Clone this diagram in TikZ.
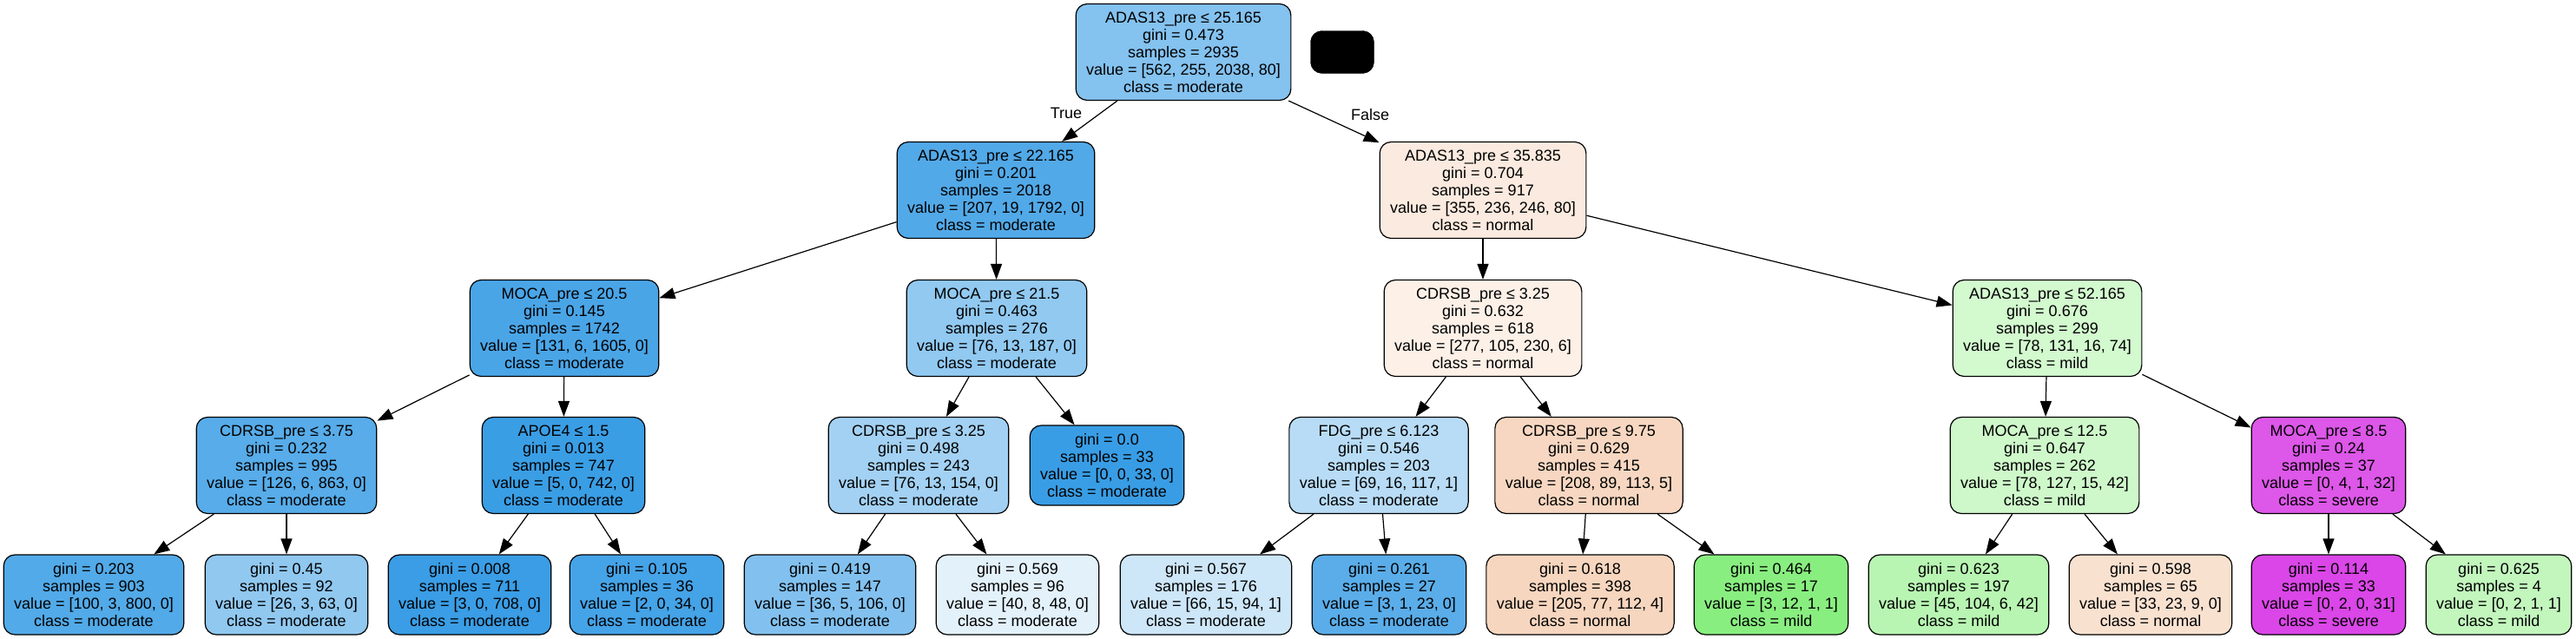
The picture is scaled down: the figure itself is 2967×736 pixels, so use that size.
\documentclass[tikz,border=0pt]{standalone}
\usepackage{fontspec}
\setmainfont{Liberation Sans}
\usetikzlibrary{arrows.meta}
\definecolor{normalc}{RGB}{229,129,57}
\definecolor{mildc}{RGB}{71,229,57}
\definecolor{moderatec}{RGB}{57,157,229}
\definecolor{severec}{RGB}{215,57,229}
\begin{document}
\begin{tikzpicture}[x=1pt,y=-1pt,
  tnode/.style={draw=black, line width=1.2pt, rounded corners=13pt, align=center,
    font=\fontsize{18}{20}\selectfont, inner xsep=12pt, inner ysep=0pt},
  split/.style={tnode, minimum height=111pt},
  leaf/.style={tnode, minimum height=92pt},
  edge/.style={draw, line width=1.2pt, -{Triangle[length=18pt,width=13pt]}},
  lbl/.style={font=\fontsize{18}{20}\selectfont, inner sep=0pt}
  ]
\useasboundingbox (0,0) rectangle (2967,736);
% level 0
\node[split, fill=moderatec!62!white] (root) at (1363,60) {ADAS13\_pre ≤ 25.165\\gini = 0.473\\samples = 2935\\value = [562, 255, 2038, 80]\\class = moderate};
\node[draw=black, fill=black, rounded corners=13pt, minimum width=73pt, minimum height=49pt, inner sep=0pt] (blk) at (1546,60) {};
% level 1
\node[split, fill=moderatec!87.5!white] (n1) at (1147,219) {ADAS13\_pre ≤ 22.165\\gini = 0.201\\samples = 2018\\value = [207, 19, 1792, 0]\\class = moderate};
\node[split, fill=normalc!16.3!white] (n2) at (1708,219) {ADAS13\_pre ≤ 35.835\\gini = 0.704\\samples = 917\\value = [355, 236, 246, 80]\\class = normal};
% level 2
\node[split, fill=moderatec!91.5!white] (n3) at (650,378) {MOCA\_pre ≤ 20.5\\gini = 0.145\\samples = 1742\\value = [131, 6, 1605, 0]\\class = moderate};
\node[split, fill=moderatec!55.5!white] (n4) at (1148,378) {MOCA\_pre ≤ 21.5\\gini = 0.463\\samples = 276\\value = [76, 13, 187, 0]\\class = moderate};
\node[split, fill=normalc!12.1!white] (n5) at (1708,378) {CDRSB\_pre ≤ 3.25\\gini = 0.632\\samples = 618\\value = [277, 105, 230, 6]\\class = normal};
\node[split, fill=mildc!24!white] (n6) at (2358,378) {ADAS13\_pre ≤ 52.165\\gini = 0.676\\samples = 299\\value = [78, 131, 16, 74]\\class = mild};
% level 3
\node[split, fill=moderatec!84.8!white] (n7) at (330,536) {CDRSB\_pre ≤ 3.75\\gini = 0.232\\samples = 995\\value = [126, 6, 863, 0]\\class = moderate};
\node[split, fill=moderatec!99.3!white] (n8) at (649,536) {APOE4 ≤ 1.5\\gini = 0.013\\samples = 747\\value = [5, 0, 742, 0]\\class = moderate};
\node[split, fill=moderatec!46.7!white] (n9) at (1058,536) {CDRSB\_pre ≤ 3.25\\gini = 0.498\\samples = 243\\value = [76, 13, 154, 0]\\class = moderate};
\node[leaf, fill=moderatec] (n10) at (1275,536) {gini = 0.0\\samples = 33\\value = [0, 0, 33, 0]\\class = moderate};
\node[split, fill=moderatec!35.8!white] (n11) at (1588,536) {FDG\_pre ≤ 6.123\\gini = 0.546\\samples = 203\\value = [69, 16, 117, 1]\\class = moderate};
\node[split, fill=normalc!31.5!white] (n12) at (1830,536) {CDRSB\_pre ≤ 9.75\\gini = 0.629\\samples = 415\\value = [208, 89, 113, 5]\\class = normal};
\node[split, fill=mildc!26.6!white] (n13) at (2355,536) {MOCA\_pre ≤ 12.5\\gini = 0.647\\samples = 262\\value = [78, 127, 15, 42]\\class = mild};
\node[split, fill=severec!84.9!white] (n14) at (2682,536) {MOCA\_pre ≤ 8.5\\gini = 0.24\\samples = 37\\value = [0, 4, 1, 32]\\class = severe};
% level 4
\node[leaf, fill=moderatec!87.2!white] (l1) at (108,685) {gini = 0.203\\samples = 903\\value = [100, 3, 800, 0]\\class = moderate};
\node[leaf, fill=moderatec!56.1!white] (l2) at (330,685) {gini = 0.45\\samples = 92\\value = [26, 3, 63, 0]\\class = moderate};
\node[leaf, fill=moderatec!99.6!white] (l3) at (541,685) {gini = 0.008\\samples = 711\\value = [3, 0, 708, 0]\\class = moderate};
\node[leaf, fill=moderatec!94.1!white] (l4) at (745,685) {gini = 0.105\\samples = 36\\value = [2, 0, 34, 0]\\class = moderate};
\node[leaf, fill=moderatec!63.1!white] (l5) at (956,685) {gini = 0.419\\samples = 147\\value = [36, 5, 106, 0]\\class = moderate};
\node[leaf, fill=moderatec!14.3!white] (l6) at (1172,685) {gini = 0.569\\samples = 96\\value = [40, 8, 48, 0]\\class = moderate};
\node[leaf, fill=moderatec!25.5!white] (l7) at (1389,685) {gini = 0.567\\samples = 176\\value = [66, 15, 94, 1]\\class = moderate};
\node[leaf, fill=moderatec!83.3!white] (l8) at (1600,685) {gini = 0.261\\samples = 27\\value = [3, 1, 23, 0]\\class = moderate};
\node[leaf, fill=normalc!32.5!white] (l9) at (1820,685) {gini = 0.618\\samples = 398\\value = [205, 77, 112, 4]\\class = normal};
\node[leaf, fill=mildc!64.3!white] (l10) at (2040,685) {gini = 0.464\\samples = 17\\value = [3, 12, 1, 1]\\class = mild};
\node[leaf, fill=mildc!38.8!white] (l11) at (2256,685) {gini = 0.623\\samples = 197\\value = [45, 104, 6, 42]\\class = mild};
\node[leaf, fill=normalc!23.8!white] (l12) at (2477,685) {gini = 0.598\\samples = 65\\value = [33, 23, 9, 0]\\class = normal};
\node[leaf, fill=severec!93.6!white] (l13) at (2682,685) {gini = 0.114\\samples = 33\\value = [0, 2, 0, 31]\\class = severe};
\node[leaf, fill=mildc!33.3!white] (l14) at (2878,685) {gini = 0.625\\samples = 4\\value = [0, 2, 1, 1]\\class = mild};
% labels
\node[lbl] (tlab) at (1228,130) {True};
\node[lbl] (flab) at (1578,132) {False};
% edges
\foreach \p/\c in {root/n1, root/n2, n1/n3, n1/n4, n2/n5, n2/n6,
  n3/n7, n3/n8, n4/n9, n4/n10, n5/n11, n5/n12, n6/n13, n6/n14,
  n7/l1, n7/l2, n8/l3, n8/l4, n9/l5, n9/l6, n11/l7, n11/l8,
  n12/l9, n12/l10, n13/l11, n13/l12, n14/l13, n14/l14}
  \draw[edge] (\p) -- (\c);
\end{tikzpicture}
\end{document}
